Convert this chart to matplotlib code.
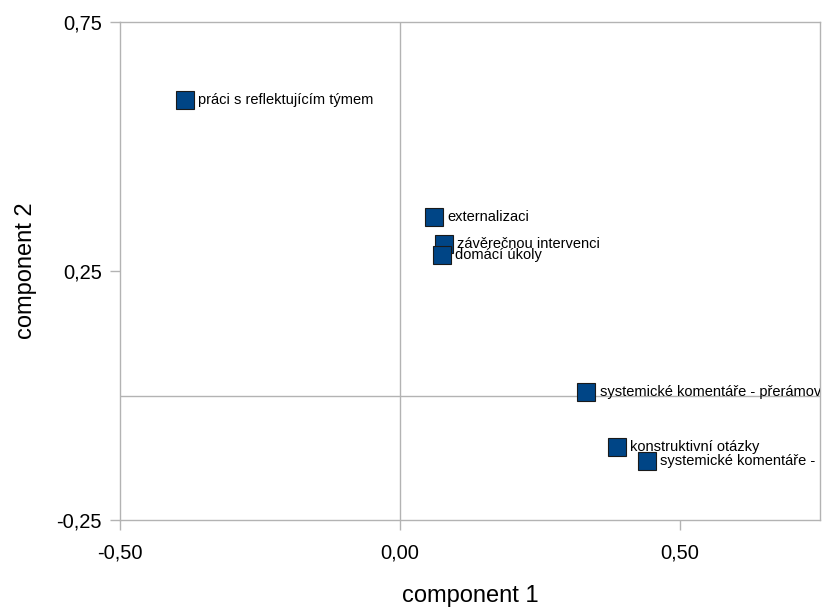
import matplotlib
matplotlib.use("Agg")
import matplotlib.pyplot as plt
from matplotlib.ticker import FuncFormatter

plt.rcParams['font.family'] = ['Liberation Sans', 'DejaVu Sans']

# component loadings
labels = [
    "práci s reflektujícím týmem",
    "externalizaci",
    "závěrečnou intervenci",
    "domácí úkoly",
    "systemické komentáře - přerámování",
    "konstruktivní otázky",
    "systemické komentáře - pozitivní konotace",
]
comp1 = [-0.384, 0.061, 0.079, 0.075, 0.333, 0.387, 0.441]
comp2 = [0.593, 0.358, 0.304, 0.282, 0.007, -0.103, -0.131]

x_ticks = [-0.5, 0.0, 0.5]
y_ticks = [-0.25, 0.25, 0.75]

grey = '#b3b3b3'
blue = '#004586'

fig = plt.figure(figsize=(8.35, 6.08), dpi=100)
ax = fig.add_axes([0.1437, 0.1447, 0.8383, 0.8191])

ax.set_xlim(-0.5, 0.75)
ax.set_ylim(-0.25, 0.75)

# axis lines crossing at zero
ax.axvline(0, color=grey, lw=1, zorder=1)
ax.axhline(0, color=grey, lw=1, zorder=1)

ax.plot(comp1, comp2, linestyle='none', marker='s', markersize=13,
        markerfacecolor=blue, markeredgecolor='#1a1a1a', markeredgewidth=0.8,
        zorder=3)

for lab, x, y in zip(labels, comp1, comp2):
    ax.annotate(lab, (x, y), xytext=(9.5, 0), textcoords='offset points',
                va='center', ha='left', fontsize=10.5, color='black',
                annotation_clip=True, clip_on=True, zorder=4)

fmt = FuncFormatter(lambda v, p: f"{v:.2f}".replace('.', ','))
ax.set_xticks(x_ticks)
ax.set_yticks(y_ticks)
ax.xaxis.set_major_formatter(fmt)
ax.yaxis.set_major_formatter(fmt)

for s in ax.spines.values():
    s.set_color(grey)
    s.set_linewidth(1)

ax.tick_params(axis='both', direction='out', length=7, width=1, color=grey,
               labelsize=14.5, labelcolor='black', pad=6)
ax.tick_params(axis='x', pad=10)

ax.set_xlabel('component 1', fontsize=17, labelpad=16)
ax.set_ylabel('component 2', fontsize=17, labelpad=14)

fig.savefig('out.png', dpi=100)
